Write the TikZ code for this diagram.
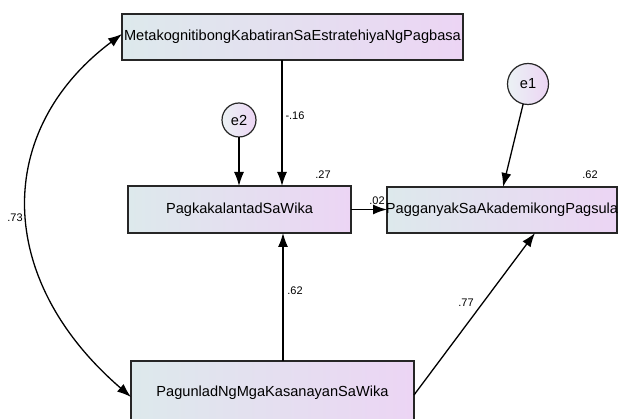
\documentclass[tikz,border=0pt]{standalone}
\usepackage{fontspec}
\setmainfont{Liberation Sans}
\usetikzlibrary{arrows.meta,calc}
\definecolor{boxL}{RGB}{221,233,236}
\definecolor{boxR}{RGB}{236,213,244}
\begin{document}
\begin{tikzpicture}[x=1pt,y=-1pt,
  every node/.style={inner sep=0pt,outer sep=0pt},
  var/.style={draw=black!85,line width=1.2pt,rectangle,left color=boxL,right color=boxR,
    font=\fontsize{14.6}{17}\selectfont},
  err/.style={draw=black!85,line width=1.2pt,circle,shading angle=135,left color=boxL!60!white,right color=boxR,
    font=\fontsize{14.6}{17}\selectfont},
  lbl/.style={font=\fontsize{11}{13}\selectfont},
  arr/.style={line width=1.3pt,-{Latex[length=14pt,width=10pt]}},
  darr/.style={line width=1.3pt,{Latex[length=14pt,width=10pt]}-{Latex[length=14pt,width=10pt]}}]
\useasboundingbox (0,0) rectangle (618,419);
\fill[white] (0,0) rectangle (618,419);
\node[var,minimum width=341pt,minimum height=46pt] (meta) at (292.5,37) {\makebox[0pt]{MetakognitibongKabatiranSaEstratehiyaNgPagbasa}};
\node[var,minimum width=223pt,minimum height=47pt] (pk) at (239.5,209.5) {\makebox[0pt]{PagkakalantadSaWika}};
\node[var,minimum width=230pt,minimum height=46pt] (pg) at (502,210) {\makebox[0pt]{PagganyakSaAkademikongPagsula}};
\node[var,minimum width=283pt,minimum height=64pt] (pu) at (272.5,393) {\makebox[0pt]{PagunladNgMgaKasanayanSaWika}};
\node[err,minimum size=34pt] (e2) at (239,120) {e2};
\node[err,minimum size=41pt] (e1) at (528,84) {e1};
% connectors
\draw[arr] ([xshift=-10.5pt]meta.south) -- ([xshift=42.5pt]pk.north);
\draw[arr] (e2) -- (e2 |- pk.north);
\draw[arr] (e1) -- ([xshift=1pt]pg.north);
\draw[arr] (pk.east) -- (pk.east -| pg.west);
\draw[arr] ([xshift=10.5pt]pu.north) -- ([xshift=10.5pt]pu.north |- pk.south);
\draw[arr] ([yshift=-2pt]pu.east) -- ([xshift=33pt]pg.south);
\coordinate (c1) at (-6,130);
\coordinate (c2) at (-6,279);
\draw[darr] ([yshift=3pt]meta.west) .. controls (c1) and (c2) .. ([yshift=-4pt]pu.west);
% labels
\node[lbl] (l16) at (295,116) {-.16};
\node[lbl] (l27) at (323,175) {.27};
\node[lbl] (l02) at (377,201) {.02};
\node[lbl] (l62a) at (590,175) {.62};
\node[lbl] (l62b) at (295,291) {.62};
\node[lbl] (l77) at (466,303) {.77};
\node[lbl] (l73) at (15,218) {.73};
\end{tikzpicture}
\end{document}
